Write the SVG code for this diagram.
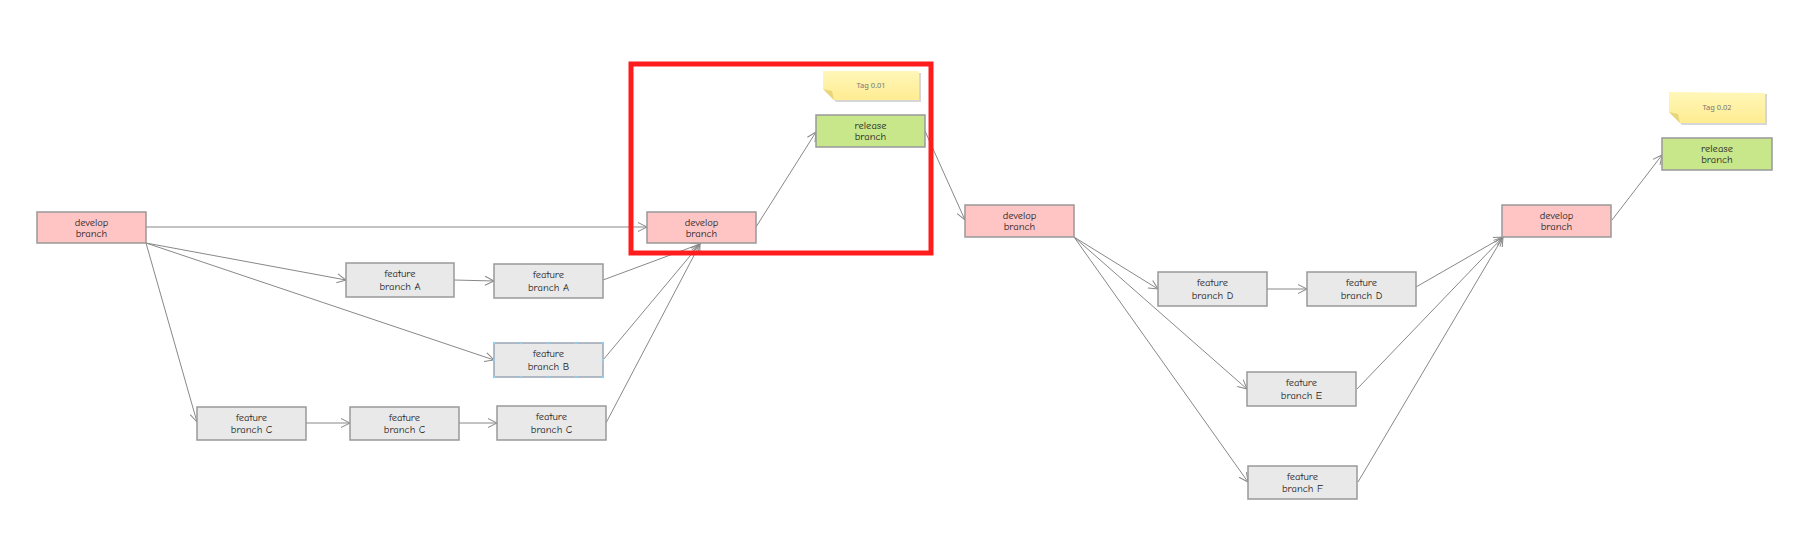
<svg xmlns="http://www.w3.org/2000/svg" width="1801" height="545" viewBox="0 0 1801 545">
<style>
.box{stroke:#999;stroke-width:1.5}
.dev{fill:#ffc4c4}
.feat{fill:#e9e9e9}
.rel{fill:#c8e68a}
.lbl{font-family:"Comic Neue","Noto Sans","Liberation Sans",sans-serif;font-size:10.5px;fill:#222;text-anchor:middle}
.tag{font-family:"Noto Sans","Liberation Sans",sans-serif;font-size:7.5px;fill:#777;text-anchor:middle}
.note{fill:url(#ng)}
.shadow{fill:#bbb;opacity:0.6}
.conn path{fill:none;stroke:#888;stroke-width:1;marker-end:url(#arr)}
.hdl{fill:#8fd0f0}
</style>
<defs>
<marker id="arr" markerUnits="userSpaceOnUse" markerWidth="12" markerHeight="12" refX="9" refY="4.5" orient="auto" overflow="visible">
<path d="M0,0 L9,4.5 L0,9" fill="none" stroke="#888" stroke-width="1"/>
</marker>
<linearGradient id="ng" x1="0" y1="0" x2="0" y2="1">
<stop offset="0" stop-color="#fff7b8"/>
<stop offset="1" stop-color="#ffec92"/>
</linearGradient>
</defs>
<rect width="1801" height="545" fill="#fff"/>

<g id="connectors" class="conn">
<path d="M146,227 L647,227"/>
<path d="M146,243 L346,280"/>
<path d="M146,243 L494,360"/>
<path d="M146,243 L197,422"/>
<path d="M454,280 L494,281"/>
<path d="M306,423 L350,423"/>
<path d="M459,423 L497,423"/>
<path d="M603,280 L700,244"/>
<path d="M603,360 L700,244"/>
<path d="M606,423 L700,244"/>
<path d="M756,227 L816,132"/>
<path d="M925,131 L965,220"/>
<path d="M1074,237 L1158,289"/>
<path d="M1074,237 L1247,389"/>
<path d="M1074,237 L1248,482"/>
<path d="M1267,289 L1307,289"/>
<path d="M1416,287 L1503,237"/>
<path d="M1357,389 L1503,237"/>
<path d="M1358,482 L1503,237"/>
<path d="M1612,220 L1662,155"/>
</g>

<g id="highlight">
<rect x="631" y="64" width="300" height="189" fill="none" stroke="#ff1c1c" stroke-width="5"/>
</g>

<g id="develop1"><rect class="box dev" x="37" y="212" width="109" height="31"/><text class="lbl" x="91.5" y="225.5">develop</text><text class="lbl" x="91.5" y="237">branch</text></g>
<g id="develop2"><rect class="box dev" x="647" y="212" width="109" height="31"/><text class="lbl" x="701.5" y="225.5">develop</text><text class="lbl" x="701.5" y="237">branch</text></g>
<g id="develop3"><rect class="box dev" x="965" y="205" width="109" height="32"/><text class="lbl" x="1019.5" y="218.5">develop</text><text class="lbl" x="1019.5" y="230">branch</text></g>
<g id="develop4"><rect class="box dev" x="1502" y="205" width="109" height="32"/><text class="lbl" x="1556.5" y="218.5">develop</text><text class="lbl" x="1556.5" y="230">branch</text></g>

<g id="release1"><rect class="box rel" x="816" y="115" width="109" height="32"/><text class="lbl" x="870.5" y="128.5">release</text><text class="lbl" x="870.5" y="140">branch</text></g>
<g id="release2"><rect class="box rel" x="1662" y="138" width="110" height="32"/><text class="lbl" x="1717" y="151.5">release</text><text class="lbl" x="1717" y="163">branch</text></g>

<g id="featA1"><rect class="box feat" x="346" y="263" width="108" height="34"/><text class="lbl" x="400" y="277">feature</text><text class="lbl" x="400" y="289.5">branch A</text></g>
<g id="featA2"><rect class="box feat" x="494" y="264" width="109" height="34"/><text class="lbl" x="548.5" y="278">feature</text><text class="lbl" x="548.5" y="290.5">branch A</text></g>
<g id="featB"><rect class="box feat" x="494" y="343" width="109" height="34" style="stroke:#9aa7b4"/><text class="lbl" x="548.5" y="357">feature</text><text class="lbl" x="548.5" y="369.5">branch B</text>
<circle class="hdl" cx="494" cy="343" r="1.2"/><circle class="hdl" cx="521" cy="343" r="1.2"/><circle class="hdl" cx="548.5" cy="343" r="1.2"/><circle class="hdl" cx="576" cy="343" r="1.2"/><circle class="hdl" cx="603" cy="343" r="1.2"/>
<circle class="hdl" cx="494" cy="377" r="1.2"/><circle class="hdl" cx="521" cy="377" r="1.2"/><circle class="hdl" cx="548.5" cy="377" r="1.2"/><circle class="hdl" cx="576" cy="377" r="1.2"/><circle class="hdl" cx="603" cy="377" r="1.2"/>
<circle class="hdl" cx="494" cy="360" r="1.2"/><circle class="hdl" cx="603" cy="360" r="1.2"/></g>
<g id="featC1"><rect class="box feat" x="197" y="407" width="109" height="33"/><text class="lbl" x="251.5" y="420.5">feature</text><text class="lbl" x="251.5" y="433">branch C</text></g>
<g id="featC2"><rect class="box feat" x="350" y="407" width="109" height="33"/><text class="lbl" x="404.5" y="420.5">feature</text><text class="lbl" x="404.5" y="433">branch C</text></g>
<g id="featC3"><rect class="box feat" x="497" y="406" width="109" height="34"/><text class="lbl" x="551.5" y="420">feature</text><text class="lbl" x="551.5" y="432.5">branch C</text></g>
<g id="featD1"><rect class="box feat" x="1158" y="272" width="109" height="34"/><text class="lbl" x="1212.5" y="286">feature</text><text class="lbl" x="1212.5" y="298.5">branch D</text></g>
<g id="featD2"><rect class="box feat" x="1307" y="272" width="109" height="34"/><text class="lbl" x="1361.5" y="286">feature</text><text class="lbl" x="1361.5" y="298.5">branch D</text></g>
<g id="featE"><rect class="box feat" x="1247" y="372" width="109" height="34"/><text class="lbl" x="1301.5" y="386">feature</text><text class="lbl" x="1301.5" y="398.5">branch E</text></g>
<g id="featF"><rect class="box feat" x="1248" y="466" width="109" height="33"/><text class="lbl" x="1302.5" y="479.5">feature</text><text class="lbl" x="1302.5" y="492">branch F</text></g>

<g id="tag1">
<polygon class="shadow" points="825,73 921,73 921,102 836,102 825,91"/>
<polygon class="note" points="823,71 919,71 919,100 834,100 823,89"/>
<polygon points="823,89 834,100 832,91" fill="#e8d77a"/>
<text class="tag" x="871" y="88">Tag 0.01</text>
</g>
<g id="tag2">
<polygon class="shadow" points="1671,94 1767,94 1767,125 1682,125 1671,114"/>
<polygon class="note" points="1669,92 1765,93 1765,123 1680,123 1669,112"/>
<polygon points="1669,112 1680,123 1678,114" fill="#e8d77a"/>
<text class="tag" x="1717" y="110">Tag 0.02</text>
</g>
</svg>
